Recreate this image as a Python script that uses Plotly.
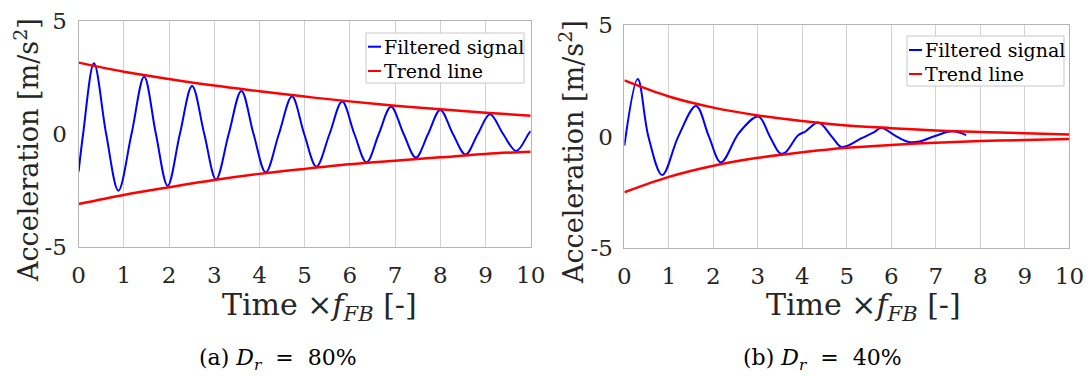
import plotly.graph_objects as go

W, H = 1091, 376

# ---------------- data ----------------
# (a) D_r = 80 %
sig_a_t = [0, 0.1, 0.34, 0.61, 0.88, 1.17, 1.45, 1.71, 1.97, 2.24, 2.51, 2.78, 3.04, 3.32,
           3.6, 3.87, 4.14, 4.43, 4.72, 4.99, 5.26, 5.55, 5.83, 6.1, 6.37, 6.64, 6.91,
           7.19, 7.46, 7.73, 8.0, 8.28, 8.56, 8.83, 9.1, 9.39, 9.68, 9.95, 10.0]
sig_a_y = [-1.66, 0.0, 3.12, 0.0, -2.5, 0.0, 2.53, 0.0, -2.29, 0.0, 2.12, 0.0, -2.0, 0.0,
           1.9, 0.0, -1.69, 0.0, 1.65, 0.0, -1.44, 0.0, 1.43, 0.0, -1.25, 0.0, 1.2,
           0.0, -1.04, 0.0, 1.06, 0.0, -0.9, 0.0, 0.87, 0.0, -0.75, 0.0, 0.13]

trend_t = [0, 1, 2, 3, 4, 5, 6, 7, 8, 9, 10]
trend_a_up = [3.15, 2.75, 2.43, 2.14, 1.89, 1.65, 1.44, 1.25, 1.09, 0.94, 0.81]
trend_a_lo = [-3.09, -2.69, -2.35, -2.03, -1.76, -1.54, -1.34, -1.18, -1.03, -0.88, -0.78]

# (b) D_r = 40 %
sig_b_t = [0, 0.3, 0.54, 0.85, 1.21, 1.61, 1.9, 2.17, 2.58, 3.01, 3.27, 3.5, 3.61, 3.91,
           4.06, 4.36, 4.66, 4.86, 5.0, 5.33, 5.63, 5.77, 6.12, 6.39, 6.63, 6.98, 7.37, 7.68]
sig_b_y = [-0.4, 2.58, 0.0, -1.72, 0.0, 1.37, 0.0, -1.15, 0.18, 0.9, 0.0, -0.75, -0.72, 0.07,
           0.22, 0.63, 0.0, -0.45, -0.42, -0.07, 0.22, 0.40, 0.0, -0.24, -0.22, 0.03, 0.24, 0.07]

trend_b_up = [2.52, 1.8, 1.3, 0.95, 0.7, 0.5, 0.38, 0.28, 0.21, 0.15, 0.1]
trend_b_lo = [-2.49, -1.8, -1.3, -0.95, -0.7, -0.5, -0.37, -0.27, -0.2, -0.15, -0.1]

x_ticks = [0, 1, 2, 3, 4, 5, 6, 7, 8, 9, 10]
y_ticks = [-5, 0, 5]
y_ticklabels = ["-5", "0", "5"]

legend_labels = ["Filtered signal", "Trend line"]
captions = ["(a)&nbsp;<i>D</i><sub><i>r</i></sub>&nbsp;&nbsp;=&nbsp;&nbsp;80%",
            "(b)&nbsp;<i>D</i><sub><i>r</i></sub>&nbsp;&nbsp;=&nbsp;&nbsp;40%"]
x_title = "Time ×<i>f</i><sub><i>FB</i></sub> [-]"
y_title = "Acceleration [m/s<sup>2</sup>]"

BLUE = "#0000ff"
RED = "#ff0000"
FONT = "DejaVu Serif"


def px(x):
    return x / W


def py(y):
    return 1 - y / H


fig = go.Figure()

panels = [
    dict(xa="x", ya="y", t=sig_a_t, y=sig_a_y, up=trend_a_up, lo=trend_a_lo),
    dict(xa="x2", ya="y2", t=sig_b_t, y=sig_b_y, up=trend_b_up, lo=trend_b_lo),
]
for p in panels:
    fig.add_trace(go.Scatter(x=p["t"], y=p["y"], mode="lines", xaxis=p["xa"], yaxis=p["ya"],
                             line=dict(color=BLUE, width=2, shape="spline", smoothing=1.0),
                             showlegend=False, hoverinfo="skip"))
    fig.add_trace(go.Scatter(x=trend_t, y=p["up"], mode="lines", xaxis=p["xa"], yaxis=p["ya"],
                             line=dict(color=RED, width=2.5, shape="spline", smoothing=1.0),
                             showlegend=False, hoverinfo="skip"))
    fig.add_trace(go.Scatter(x=trend_t, y=p["lo"], mode="lines", xaxis=p["xa"], yaxis=p["ya"],
                             line=dict(color=RED, width=2.5, shape="spline", smoothing=1.0),
                             showlegend=False, hoverinfo="skip"))

# plot area pixel boxes (left, right, top, bottom)
boxes = [(78.6, 530.7, 20.7, 247.3), (624.4, 1069.4, 25.0, 248.3)]

axis_common = dict(showline=True, mirror=True, linecolor="#b4b4b4", linewidth=1,
                   tickfont=dict(family=FONT, size=23, color="#262626"), ticks="",
                   automargin=False)
layout_axes = {}
for i, (l, r, t, b) in enumerate(boxes):
    sfx = "" if i == 0 else "2"
    layout_axes["xaxis" + sfx] = dict(
        domain=[px(l), px(r)], anchor="y" + sfx, range=[0, 10],
        tickvals=x_ticks, ticktext=[str(v) for v in x_ticks],
        showgrid=True, gridcolor="#d2d2d2", gridwidth=1, zeroline=False,
        ticklabelstandoff=7, **axis_common)
    layout_axes["yaxis" + sfx] = dict(
        domain=[py(b), py(t)], anchor="x" + sfx, range=[-5, 5],
        tickvals=y_ticks, ticktext=y_ticklabels,
        showgrid=False, zeroline=False, ticklabelstandoff=6, **axis_common)

annotations = []
shapes = []
# axis titles and captions
xt_pos = [(319, 306), (863, 306)]
yt_pos = [(26, 150), (571, 152)]
cap_pos = [(278, 359), (822, 359)]
for i in range(2):
    annotations.append(dict(x=px(xt_pos[i][0]), y=py(xt_pos[i][1]), xref="paper", yref="paper",
                            text=x_title, showarrow=False, xanchor="center", yanchor="middle",
                            font=dict(family=FONT, size=30, color="#262626")))
    annotations.append(dict(x=px(yt_pos[i][0]), y=py(yt_pos[i][1]), xref="paper", yref="paper",
                            text=y_title, showarrow=False, xanchor="center", yanchor="middle",
                            textangle=-90, font=dict(family=FONT, size=27, color="#262626")))
    annotations.append(dict(x=px(cap_pos[i][0]), y=py(cap_pos[i][1]), xref="paper", yref="paper",
                            text=captions[i], showarrow=False, xanchor="center", yanchor="middle",
                            font=dict(family=FONT, size=22, color="#000000")))

# manual legends: (box l, r, t, b), glyph x0, x1, text x, row ys
legends = [((366, 524, 33, 83), 368, 381, 382, (46.7, 71.0)),
           ((907, 1064, 36, 86), 909, 922, 923, (50.0, 74.0))]
for (l, r, t, b), g0, g1, tx, rows in legends:
    shapes.append(dict(type="rect", xref="paper", yref="paper", x0=px(l), x1=px(r),
                       y0=py(b), y1=py(t), line=dict(color="#c8c8c8", width=1),
                       fillcolor="white", layer="above"))
    for lab, col, ry in zip(legend_labels, [BLUE, RED], rows):
        shapes.append(dict(type="line", xref="paper", yref="paper", x0=px(g0), x1=px(g1),
                           y0=py(ry), y1=py(ry), line=dict(color=col, width=2), layer="above"))
        annotations.append(dict(x=px(tx), y=py(ry), xref="paper", yref="paper", text=lab,
                                showarrow=False, xanchor="left", yanchor="middle",
                                font=dict(family=FONT, size=19, color="#000000")))

fig.update_layout(width=W, height=H, autosize=False,
                  margin=dict(l=0, r=0, t=0, b=0, pad=0, autoexpand=False),
                  paper_bgcolor="white", plot_bgcolor="white",
                  showlegend=False, annotations=annotations, shapes=shapes,
                  **layout_axes)

fig.write_html("out.html")
